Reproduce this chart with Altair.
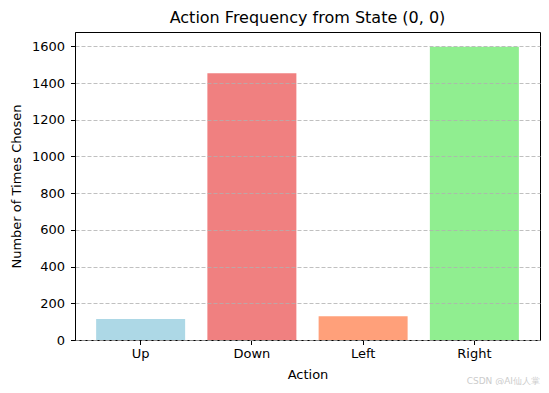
import altair as alt
import pandas as pd

actions = ["Up", "Down", "Left", "Right"]
counts = [114, 1453, 130, 1598]
colors = ["#ADD8E6", "#F08080", "#FFA07A", "#90EE90"]
y_ticks = [0, 200, 400, 600, 800, 1000, 1200, 1400, 1600]

df = pd.DataFrame({"Action": actions, "Count": counts})

FONT = "DejaVu Sans"

bars = alt.Chart(df).mark_bar().encode(
    x=alt.X("Action:N", sort=actions,
            scale=alt.Scale(paddingInner=0.2, paddingOuter=0.19),
            axis=alt.Axis(title="Action", labelAngle=0, grid=False,
                          tickSize=4.5, labelPadding=3, titlePadding=8,
                          domainColor="black", tickColor="black",
                          labelFontSize=13, titleFontSize=13,
                          labelFont=FONT, titleFont=FONT,
                          titleFontWeight="normal", labelColor="black", titleColor="black")),
    y=alt.Y("Count:Q", scale=alt.Scale(domain=[0, 1678], nice=False, zero=True),
            axis=alt.Axis(title="Number of Times Chosen", values=y_ticks, format="d",
                          grid=True, gridDash=[4, 2], gridColor="#b0b0b0", gridWidth=0.8,
                          tickSize=4.5, labelPadding=6, titlePadding=8,
                          domainColor="black", tickColor="black",
                          labelFontSize=13, titleFontSize=13,
                          labelFont=FONT, titleFont=FONT,
                          titleFontWeight="normal", labelColor="black", titleColor="black",
                          zindex=1)),
    color=alt.Color("Action:N", sort=actions,
                    scale=alt.Scale(domain=actions, range=colors), legend=None),
)

watermark = alt.Chart(pd.DataFrame({"t": ["CSDN @AI仙人掌"]})).mark_text(
    align="right", baseline="middle", fontSize=9, color="#cccccc", font=FONT
).encode(text="t:N", x=alt.value(465), y=alt.value(349))

chart = alt.layer(bars, watermark).properties(
    width=465, height=308,
    title=alt.TitleParams("Action Frequency from State (0, 0)", fontSize=16,
                          fontWeight="normal", font=FONT, color="black",
                          anchor="middle", offset=6),
    autosize=alt.AutoSizeParams(type="none"),
    padding={"left": 67, "top": 24, "right": 1, "bottom": 45},
).configure_view(stroke="black", strokeWidth=1)

chart.save("out.html", embed_options={"renderer": "svg", "actions": False})
